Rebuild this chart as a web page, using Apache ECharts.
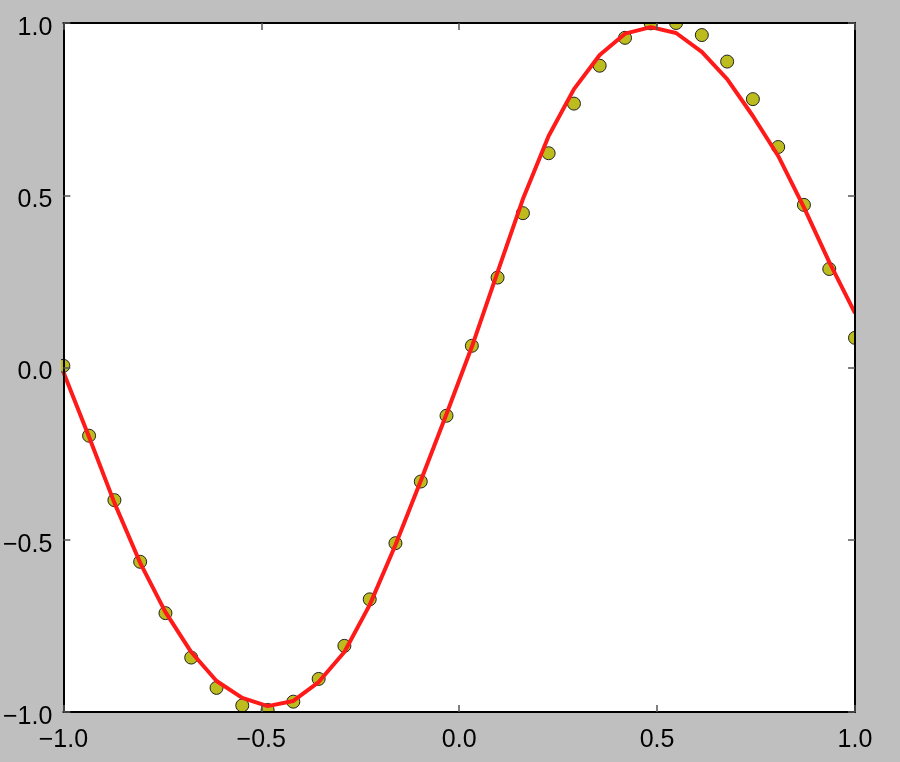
<!DOCTYPE html>
<html>
<head>
<meta charset="utf-8">
<script src="https://cdn.jsdelivr.net/npm/echarts@6/dist/echarts.min.js"></script>
<style>
  html, body { margin: 0; padding: 0; background: #bfbfbf; }
  #chart { width: 900px; height: 762px; }
</style>
</head>
<body>
<div id="chart"></div>
<script>
// x positions shared by the points and the line
const xValues = [-1.000, -0.935, -0.871, -0.806, -0.742, -0.677, -0.613, -0.548,
  -0.484, -0.419, -0.355, -0.290, -0.226, -0.161, -0.097, -0.032,
  0.032, 0.097, 0.161, 0.226, 0.290, 0.355, 0.419, 0.484,
  0.548, 0.613, 0.677, 0.742, 0.806, 0.871, 0.935, 1.000]
// noisy samples (yellow dots)
const pointValues = [0.005, -0.198, -0.385, -0.564, -0.713, -0.842, -0.930, -0.981,
  -0.994, -0.970, -0.904, -0.808, -0.673, -0.510, -0.331, -0.140,
  0.063, 0.261, 0.448, 0.622, 0.766, 0.876, 0.957, 0.999,
  1.000, 0.965, 0.888, 0.779, 0.640, 0.472, 0.286, 0.086]
// fitted curve (red line)
const lineValues = [-0.013, -0.202, -0.393, -0.567, -0.710, -0.826, -0.910, -0.959,
  -0.983, -0.968, -0.913, -0.826, -0.689, -0.515, -0.329, -0.135,
  0.060, 0.277, 0.489, 0.672, 0.808, 0.907, 0.969, 0.988,
  0.971, 0.916, 0.837, 0.730, 0.614, 0.465, 0.306, 0.158]
const tickValues = [-1.0, -0.5, 0.0, 0.5, 1.0]

const fontFamily = 'Liberation Sans, Arial, Helvetica, sans-serif'
const bgColor = '#bfbfbf'
// plot rect
const plotLeft = 61
const plotTop = 23
const plotRight = 855
const plotBottom = 712

const fmt = (v) => Number(v).toFixed(1).replace('-', '\u2212')

const baseAxis = (extra) => Object.assign({
  type: 'value',
  min: tickValues[0],
  max: tickValues[tickValues.length - 1],
  interval: 0.5,
  z: 10,
  axisLine: { show: true, onZero: false, lineStyle: { color: '#000', width: 2 } },
  axisTick: { show: true, inside: true, length: 7, lineStyle: { color: '#555', width: 1.5 } },
  splitLine: { show: false }
}, extra)

const chart = echarts.init(document.getElementById('chart'))
chart.setOption({
  backgroundColor: bgColor,
  animation: false,
  grid: {
    left: plotLeft,
    top: plotTop,
    right: 900 - plotRight,
    bottom: 762 - plotBottom,
    show: true,
    backgroundColor: '#fff',
    borderWidth: 0
  },
  xAxis: [
    baseAxis({
      position: 'bottom',
      axisLabel: { fontSize: 25, color: '#000', fontFamily: fontFamily, margin: 16, formatter: fmt }
    }),
    baseAxis({ position: 'top', axisLabel: { show: false } })
  ],
  yAxis: [
    baseAxis({
      position: 'left',
      axisLabel: {
        fontSize: 25, color: '#000', fontFamily: fontFamily, margin: 11,
        formatter: (v) => '{v|' + fmt(v) + '}',
        rich: { v: { fontSize: 25, color: '#000', fontFamily: fontFamily, padding: [10, 0, 0, 0] } }
      }
    }),
    baseAxis({ position: 'right', axisLabel: { show: false } })
  ],
  // grey frame over anything that spills outside the plot
  graphic: {
    elements: [
      { type: 'rect', silent: true, z: 5, shape: { x: 0, y: 0, width: 900, height: plotTop }, style: { fill: bgColor } },
      { type: 'rect', silent: true, z: 5, shape: { x: 0, y: plotBottom, width: 900, height: 762 - plotBottom }, style: { fill: bgColor } },
      { type: 'rect', silent: true, z: 5, shape: { x: 0, y: 0, width: plotLeft, height: 762 }, style: { fill: bgColor } },
      { type: 'rect', silent: true, z: 5, shape: { x: plotRight, y: 0, width: 900 - plotRight, height: 762 }, style: { fill: bgColor } }
    ]
  },
  series: [
    {
      type: 'scatter',
      z: 2,
      clip: false,
      symbol: 'circle',
      symbolSize: 13,
      itemStyle: { color: '#bcbc1e', borderColor: '#222', borderWidth: 1, opacity: 1 },
      data: xValues.map((x, i) => [x, pointValues[i]])
    },
    {
      type: 'line',
      z: 3,
      showSymbol: false,
      symbol: 'none',
      lineStyle: { color: '#ff1a1a', width: 4 },
      data: xValues.map((x, i) => [x, lineValues[i]])
    }
  ]
})
</script>
</body>
</html>
